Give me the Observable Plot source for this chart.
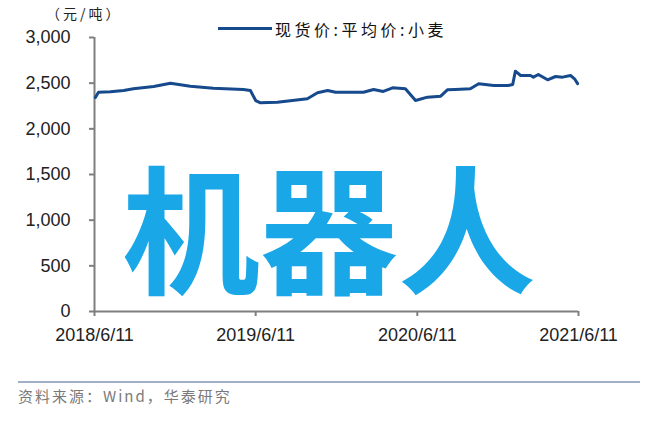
<!DOCTYPE html>
<html>
<head>
<meta charset="utf-8">
<script src="https://cdn.jsdelivr.net/npm/d3@7"></script>
<script src="https://cdn.jsdelivr.net/npm/@observablehq/plot@0.6"></script>
<style>
  html, body { margin: 0; padding: 0; background: #fff; }
  #wrap { position: relative; width: 659px; height: 429px; overflow: hidden; }
  #chart { position: absolute; left: 0; top: 0; }
  .abs { position: absolute; white-space: nowrap; }
  #unit { left: 46px; top: 3px; font: 14px "Noto Sans CJK SC"; letter-spacing: 3px; color: #222; }
  #legend-line { left: 218px; top: 27px; width: 54px; height: 3px; background: #164a8c; }
  #legend-text { left: 275px; top: 18px; font: 16px "Noto Sans CJK SC"; letter-spacing: 3.5px; color: #111; line-height: 22px; }
  #rule { left: 18px; top: 381px; width: 622px; height: 2px; background: #9fb0c8; }
  #source { left: 18px; top: 386px; font: 15px "Noto Sans CJK SC"; letter-spacing: 2px; color: #7a7a7a; line-height: 20px; }
  #wm { left: 122px; top: 154px; font: bold 138px "Noto Sans CJK SC"; line-height: 1; color: #19a7e8; }
</style>
</head>
<body>
<div id="wrap">
  <div id="chart"></div>
  <div class="abs" id="unit">（元/吨）</div>
  <div class="abs" id="legend-line"></div>
  <div class="abs" id="legend-text">现货价:平均价:小麦</div>
  <div class="abs" id="rule"></div>
  <div class="abs" id="source">资料来源：Wind，华泰研究</div>
  <div class="abs" id="wm">机器人</div>
</div>
<script>
const dates = [
  "2018-06-13","2018-06-20","2018-07-17","2018-08-16","2018-09-07","2018-10-23","2018-11-30",
  "2019-01-14","2019-03-07","2019-05-14","2019-05-30","2019-06-11","2019-06-22","2019-07-30",
  "2019-10-06","2019-10-29","2019-11-21","2019-12-09","2020-02-10","2020-03-04","2020-03-26",
  "2020-04-16","2020-05-15","2020-06-07","2020-07-04","2020-08-03","2020-08-18","2020-09-05",
  "2020-10-09","2020-10-28","2020-12-01","2021-01-03","2021-01-13","2021-01-19","2021-01-31",
  "2021-02-22","2021-03-01","2021-03-12","2021-04-02","2021-04-20","2021-05-06","2021-05-24",
  "2021-06-02","2021-06-09"
];
const prices = [
  2343, 2400, 2405, 2420, 2438, 2464, 2500,
  2467, 2445, 2431, 2420, 2310, 2285, 2292,
  2329, 2395, 2420, 2400, 2400, 2431, 2409,
  2449, 2438, 2310, 2347, 2358, 2427, 2431,
  2438, 2493, 2475, 2475, 2485, 2631, 2584,
  2584, 2566, 2595, 2537, 2573, 2566, 2584,
  2548, 2495
];
const yTicks = [0, 500, 1000, 1500, 2000, 2500, 3000];
const xTicks = ["2018-06-11", "2019-06-11", "2020-06-11", "2021-06-11"];

const data = dates.map((d, i) => ({date: new Date(d), price: prices[i]}));
const xDomain = [new Date(xTicks[0]), new Date(xTicks[xTicks.length - 1])];

const plot = Plot.plot({
  width: 659,
  height: 429,
  marginLeft: 94,
  marginRight: 81,
  marginTop: 37,
  marginBottom: 118,
  style: {fontFamily: "'Liberation Sans', Arial, sans-serif", fontSize: "18px", background: "transparent"},
  x: {type: "utc", domain: xDomain},
  y: {domain: [0, 3000]},
  marks: [
    Plot.axisY({ticks: yTicks, tickFormat: d3.format(","), tickSize: 5, tickPadding: 19,
      stroke: "#7f7f7f", strokeWidth: 2, fill: "#222", label: null}),
    Plot.axisX({ticks: xTicks.map(d => new Date(d)), tickFormat: d3.utcFormat("%Y/%-m/%-d"),
      tickSize: 5, tickPadding: 12, stroke: "#7f7f7f", strokeWidth: 2, fill: "#222", label: null}),
    Plot.ruleX([xDomain[0]], {stroke: "#7f7f7f", strokeWidth: 2}),
    Plot.ruleY([0], {stroke: "#7f7f7f", strokeWidth: 2}),
    Plot.line(data, {x: "date", y: "price", stroke: "#164a8c", strokeWidth: 3})
  ]
});
document.getElementById("chart").appendChild(plot);
</script>
</body>
</html>
